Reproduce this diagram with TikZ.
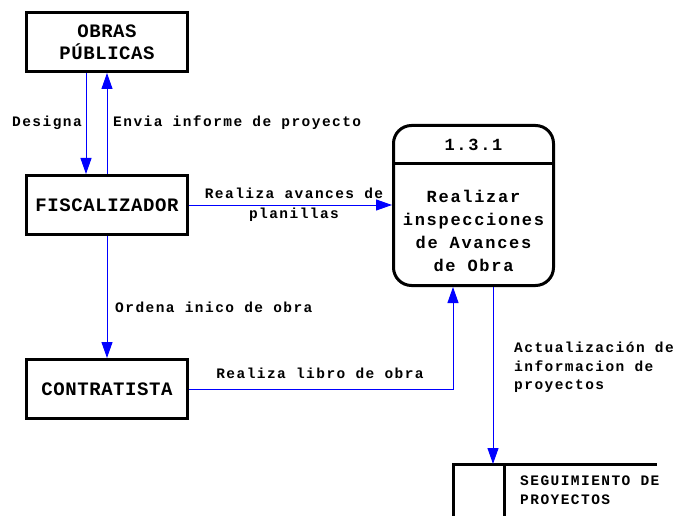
\documentclass[tikz,border=0pt]{standalone}
\usepackage{fontspec}
\usetikzlibrary{arrows.meta}
\newfontfamily\entfont{Liberation Mono}[LetterSpace=3]
\newfontfamily\procfont{Liberation Mono}[LetterSpace=10]
\newfontfamily\lblfont{Liberation Mono}[LetterSpace=10]
\tikzset{
	entidad/.style={draw, line width=3pt, minimum width=161pt, minimum height=59pt, inner sep=0pt, align=center,
		font=\entfont\bfseries\fontsize{19}{22}\selectfont},
	proceso/.style={draw, line width=3pt, rounded corners=18pt, minimum width=160pt, minimum height=160pt, inner sep=0pt},
	proctxt/.style={align=center, inner sep=0pt, font=\procfont\bfseries\fontsize{17}{23}\selectfont},
	etiqueta/.style={inner sep=0pt, align=left, font=\lblfont\bfseries\fontsize{14.5}{18.5}\selectfont},
	flujo/.style={draw=blue, color=blue, line width=1pt, -{Triangle[length=16pt,width=11pt]}}
}

\begin{document}
\begin{tikzpicture}[x=1pt, y=1pt]
	%%%%% START %%%%%
	\useasboundingbox (0, 0) rectangle (677, 515);
	
	\node[entidad] (obras) at (107, 473) {OBRAS\\PÚBLICAS};
	\node[entidad] (fisc) at (107, 310) {FISCALIZADOR};
	\node[entidad] (contr) at (107, 126) {CONTRATISTA};
	
	\node[proceso] (proc) at (473.5, 309.5) {};
	\draw[line width=3pt] ([yshift=-39.5pt]proc.north west) -- ([yshift=-39.5pt]proc.north east);
	\node[proctxt] (procnum) at (473.5, 370) {1.3.1};
	\node[proctxt] (procdesc) at (473.5, 284.5) {Realizar\\inspecciones\\de Avances\\de Obra};
	
	\coordinate (almacen) at (453, 51);
	\draw[line width=3pt] ([yshift=-52pt]almacen) -- (almacen) -- ([xshift=204pt]almacen);
	\draw[line width=3pt] ([xshift=51pt]almacen) -- ([xshift=51pt, yshift=-52pt]almacen);
	\node[etiqueta, anchor=west] (almlbl) at (520, 25) {SEGUIMIENTO DE\\PROYECTOS};
	
	\draw[flujo] ([xshift=-21pt]obras.south) -- ([xshift=-21pt]fisc.north);
	\draw[flujo] (fisc.north) -- (obras.south);
	\draw[flujo] (fisc.east) -- (proc.west |- fisc.east);
	\draw[flujo] (fisc.south) -- (contr.north);
	\draw[flujo] (contr.east) -| ([xshift=-20.5pt]proc.south);
	\draw[flujo] ([xshift=19.5pt]proc.south) -- ([xshift=19.5pt]proc.south |- almacen);
	
	\node[etiqueta] (designa) at (47, 392) {Designa};
	\node[etiqueta, anchor=west] (envia) at (113, 392) {Envia informe de proyecto};
	\node[etiqueta, align=center, text depth=0pt] (avances) at (294, 312) {Realiza avances de\\[2pt]planillas};
	\node[etiqueta, anchor=west] (ordena) at (115, 208) {Ordena inico de obra};
	\node[etiqueta] (libro) at (320, 142) {Realiza libro de obra};
	\node[etiqueta, anchor=west] (actual) at (514, 147.5) {Actualización de\\informacion de\\proyectos};
	
	%%%%% END %%%%%
\end{tikzpicture}
\end{document}
